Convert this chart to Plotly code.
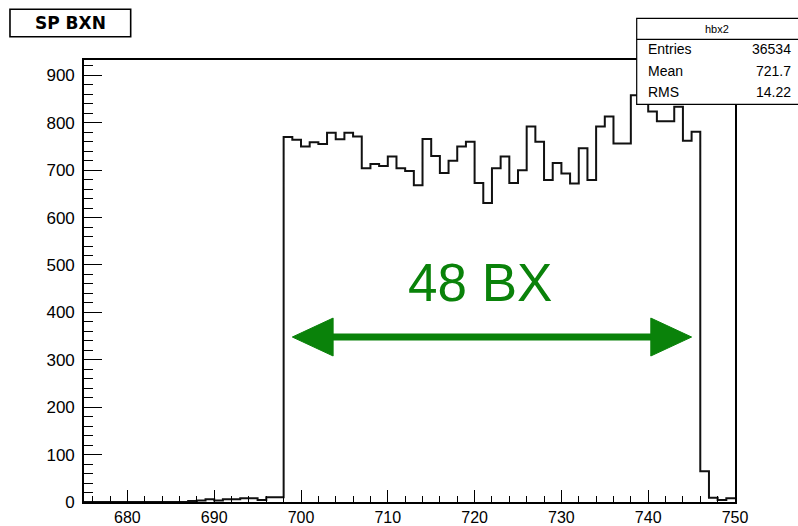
import numpy as np
import plotly.graph_objects as go

# Histogram "hbx2": SP bunch-crossing number, 1-unit bins from 675 to 750
bin_low = 675
bin_width = 1
counts = [
    0, 0, 0, 0, 0, 0, 0, 0, 0, 0,          # 675-684
    0, 0, 2, 3, 6, 3, 6, 6, 8, 8,          # 685-694
    4, 10, 10, 770, 764, 750, 759, 755, 779, 765,   # 695-704
    779, 771, 704, 713, 709, 729, 704, 698, 668, 766,  # 705-714
    730, 694, 720, 750, 760, 673, 631, 704, 729, 673,  # 715-724
    700, 792, 760, 679, 715, 693, 672, 746, 679, 792,  # 725-734
    813, 756, 756, 858, 888, 824, 803, 803, 834, 762,  # 735-744
    781, 65, 9, 4, 8,                                 # 745-749
]

hist_name = "hbx2"
stat_labels = ["Entries", "Mean", "RMS"]
stat_values = ["36534", "721.7", "14.22"]
title_text = "SP BXN"

span_label = "48 BX"
span_from, span_to = 699, 745   # arrow tips (bin-crossing numbers)
span_level = 348                 # arrow height (counts)

x_ticks = list(range(680, 751, 10))
y_ticks = list(range(0, 901, 100))

edges = bin_low + bin_width * np.arange(len(counts) + 1)
step_y = list(counts) + [counts[-1]]
y_top = 1.05 * max(counts)

GREEN = "#0a820a"
FONT = "Liberation Sans, Arial, sans-serif"

fig = go.Figure()
fig.add_trace(go.Scatter(
    x=edges, y=step_y, mode="lines", line_shape="hv",
    line=dict(color="#111111", width=2), hoverinfo="skip", showlegend=False,
))

# double-headed arrow marking the filled bunch train
head_len = 4.7          # along x, in BX units
head_half = 40          # along y, in counts
shaft_w = 7
fig.add_shape(type="line", xref="x", yref="y",
              x0=span_from + head_len * 0.8, x1=span_to - head_len * 0.8,
              y0=span_level, y1=span_level,
              line=dict(color=GREEN, width=shaft_w))
for tip, d in ((span_from, 1), (span_to, -1)):
    base = tip + d * head_len
    fig.add_shape(
        type="path", xref="x", yref="y",
        path=f"M {tip},{span_level} L {base},{span_level + head_half} "
             f"L {base},{span_level - head_half} Z",
        fillcolor=GREEN, line=dict(color=GREEN, width=1),
    )
fig.add_annotation(x=720.6, y=span_level + 116,
                   xref="x", yref="y", text=span_label, showarrow=False,
                   font=dict(family=FONT, size=53, color=GREEN),
                   xanchor="center", yanchor="middle")

# statistics box (top right, overlapping the frame)
sx0, sx1 = 0.849, 1.10
sy0, sy1, sy_sep = 0.8997, 1.0943, 1.0468
fig.add_shape(type="rect", xref="paper", yref="paper",
              x0=sx0, x1=sx1, y0=sy0, y1=sy1,
              fillcolor="white", line=dict(color="black", width=1.2), layer="above")
fig.add_shape(type="line", xref="paper", yref="paper",
              x0=sx0, x1=sx1, y0=sy_sep, y1=sy_sep,
              line=dict(color="black", width=1.2), layer="above")
fig.add_annotation(xref="paper", yref="paper", x=0.972, y=(sy1 + sy_sep) / 2,
                   text=hist_name, showarrow=False, xanchor="center", yanchor="middle",
                   font=dict(family=FONT, size=11, color="black"))
row_y = [1.024, 0.975, 0.928]
for lab, val, ry in zip(stat_labels, stat_values, row_y):
    fig.add_annotation(xref="paper", yref="paper", x=0.863, y=ry, text=lab,
                       showarrow=False, xanchor="left", yanchor="middle",
                       font=dict(family=FONT, size=14, color="black"))
    fig.add_annotation(xref="paper", yref="paper", x=1.089, y=ry, text=val,
                       showarrow=False, xanchor="right", yanchor="middle",
                       font=dict(family=FONT, size=14, color="black"))

# title box (top left)
fig.add_shape(type="rect", xref="paper", yref="paper",
              x0=-0.1137, x1=0.0717, y0=1.0527, y1=1.1147,
              fillcolor="white", line=dict(color="black", width=1.6), layer="above")
fig.add_annotation(xref="paper", yref="paper", x=(-0.1137 + 0.0717) / 2,
                   y=(1.0527 + 1.1147) / 2, text=f"<b>{title_text}</b>",
                   showarrow=False, xanchor="center", yanchor="middle",
                   font=dict(family="DejaVu Sans, sans-serif", size=17, color="black"))

axis_common = dict(
    showline=True, linecolor="black", linewidth=1.6, mirror=True,
    showgrid=False, zeroline=False, ticks="inside", tickcolor="black",
    tickwidth=1.4, automargin=False,
)
fig.update_xaxes(range=[edges[0], edges[-1]], tickmode="array", tickvals=x_ticks,
                 ticklen=12, ticklabelstandoff=0,
                 tickfont=dict(family=FONT, size=16, color="black"),
                 minor=dict(dtick=2, tick0=0, ticklen=6, ticks="inside",
                            tickcolor="black", tickwidth=1.2),
                 **axis_common)
fig.update_yaxes(range=[0, y_top], tickmode="array", tickvals=y_ticks,
                 ticklen=18, ticklabelstandoff=4,
                 tickfont=dict(family=FONT, size=17, color="black"),
                 minor=dict(dtick=20, tick0=0, ticklen=9, ticks="inside",
                            tickcolor="black", tickwidth=1.2),
                 **axis_common)

fig.update_layout(
    width=798, height=526,
    margin=dict(l=84, r=63, t=60, b=24, autoexpand=False),
    paper_bgcolor="white", plot_bgcolor="white",
    showlegend=False,
)

fig.write_html("out.html")
